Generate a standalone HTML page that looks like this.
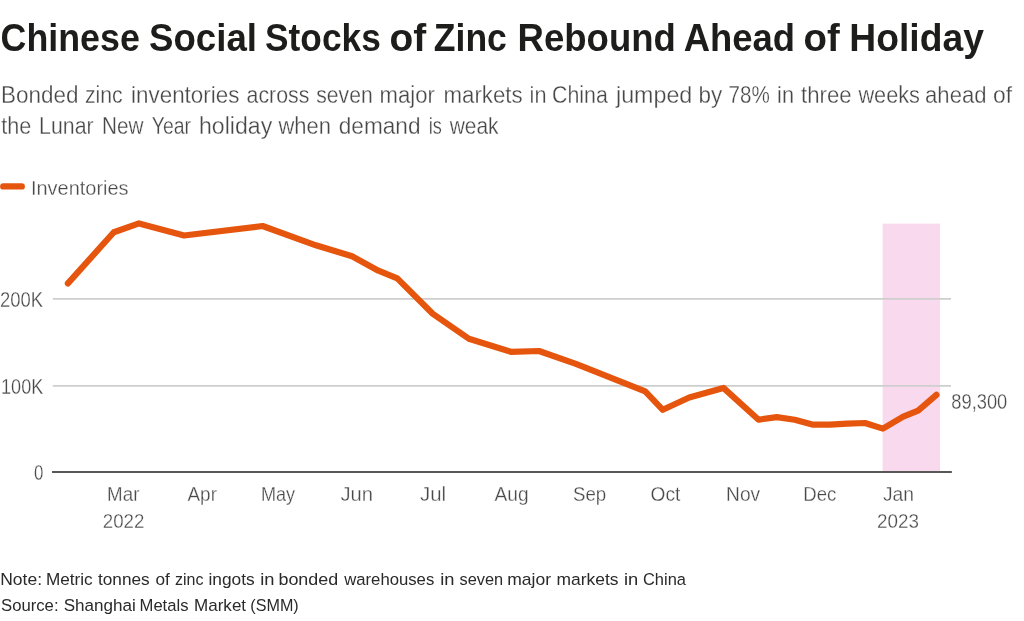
<!DOCTYPE html>
<html><head><meta charset="utf-8"><title>Chinese Social Stocks of Zinc Rebound Ahead of Holiday</title>
<style>
html,body{margin:0;padding:0;background:#fff;}
body{width:1024px;height:621px;overflow:hidden;font-family:"Liberation Sans",sans-serif;}
svg{display:block;font-family:"Liberation Sans",sans-serif;will-change:transform;}
text.l{stroke:#fff;stroke-width:0.3px;}
</style></head><body>
<svg width="1024" height="621" viewBox="0 0 1024 621">
<rect x="0" y="0" width="1024" height="621" fill="#ffffff"/>
<rect x="882.6" y="223.6" width="57.45" height="248" fill="#f9d9ee"/>
<line x1="52.8" y1="298.9" x2="951" y2="298.9" stroke="#cecece" stroke-width="1.8"/>
<line x1="52.8" y1="385.85" x2="951" y2="385.85" stroke="#cecece" stroke-width="1.8"/>
<line x1="52.0" y1="471.95" x2="951.85" y2="471.95" stroke="#585856" stroke-width="1.9"/>
<polyline points="67.9,283.4 113.8,232.2 139.0,223.4 184.1,235.5 262.6,226.0 315.9,245.3 352.1,256.3 378.4,270.7 397.3,278.4 432.7,313.7 468.9,338.7 510.9,351.8 539.0,351.0 575.9,363.9 645.2,391.3 662.8,409.8 689.2,397.5 723.4,387.9 758.6,419.7 776.8,417.1 794.7,419.7 812.3,424.6 829.9,424.6 847.5,423.6 865.0,423.0 882.9,428.6 903.2,416.7 918.1,410.7 936.4,394.8" fill="none" stroke="#e6550d" stroke-width="6.2" stroke-linecap="round" stroke-linejoin="round"/>
<line x1="3.3" y1="186.4" x2="21.7" y2="186.4" stroke="#e6550d" stroke-width="6.4" stroke-linecap="round"/>
<text transform="translate(0.56 51.00) scale(0.9421 1)" font-size="38.0" font-weight="bold" fill="#1d1d1b">Chinese</text>
<text transform="translate(149.04 51.00) scale(0.9642 1)" font-size="38.0" font-weight="bold" fill="#1d1d1b">Social</text>
<text transform="translate(265.07 51.00) scale(0.9287 1)" font-size="38.0" font-weight="bold" fill="#1d1d1b">Stocks</text>
<text transform="translate(389.48 51.00) scale(1.0224 1)" font-size="38.0" font-weight="bold" fill="#1d1d1b">of</text>
<text transform="translate(433.81 51.00) scale(0.9353 1)" font-size="38.0" font-weight="bold" fill="#1d1d1b">Zinc</text>
<text transform="translate(517.58 51.00) scale(0.9615 1)" font-size="38.0" font-weight="bold" fill="#1d1d1b">Rebound</text>
<text transform="translate(683.75 51.00) scale(0.9590 1)" font-size="38.0" font-weight="bold" fill="#1d1d1b">Ahead</text>
<text transform="translate(803.49 51.00) scale(1.0082 1)" font-size="38.0" font-weight="bold" fill="#1d1d1b">of</text>
<text transform="translate(849.29 51.00) scale(0.9806 1)" font-size="38.0" font-weight="bold" fill="#1d1d1b">Holiday</text>
<text class="l" transform="translate(1.04 102.50) scale(0.9563 1)" font-size="23.5" font-weight="normal" fill="#474747">Bonded</text>
<text class="l" transform="translate(85.00 102.50) scale(0.9039 1)" font-size="23.5" font-weight="normal" fill="#474747">zinc</text>
<text class="l" transform="translate(131.05 102.50) scale(0.9540 1)" font-size="23.5" font-weight="normal" fill="#474747">inventories</text>
<text class="l" transform="translate(246.59 102.50) scale(0.9079 1)" font-size="23.5" font-weight="normal" fill="#474747">across</text>
<text class="l" transform="translate(316.25 102.50) scale(0.9004 1)" font-size="23.5" font-weight="normal" fill="#474747">seven</text>
<text class="l" transform="translate(379.56 102.50) scale(0.9407 1)" font-size="23.5" font-weight="normal" fill="#474747">major</text>
<text class="l" transform="translate(443.55 102.50) scale(0.9472 1)" font-size="23.5" font-weight="normal" fill="#474747">markets</text>
<text class="l" transform="translate(529.58 102.50) scale(0.9247 1)" font-size="23.5" font-weight="normal" fill="#474747">in</text>
<text class="l" transform="translate(552.09 102.50) scale(0.9090 1)" font-size="23.5" font-weight="normal" fill="#474747">China</text>
<text class="l" transform="translate(615.99 102.50) scale(0.9902 1)" font-size="23.5" font-weight="normal" fill="#474747">jumped</text>
<text class="l" transform="translate(698.54 102.50) scale(0.9556 1)" font-size="23.5" font-weight="normal" fill="#474747">by</text>
<text class="l" transform="translate(728.62 102.50) scale(0.8778 1)" font-size="23.5" font-weight="normal" fill="#474747">78%</text>
<text class="l" transform="translate(777.08 102.50) scale(0.9247 1)" font-size="23.5" font-weight="normal" fill="#474747">in</text>
<text class="l" transform="translate(801.00 102.50) scale(0.9440 1)" font-size="23.5" font-weight="normal" fill="#474747">three</text>
<text class="l" transform="translate(858.42 102.50) scale(0.9236 1)" font-size="23.5" font-weight="normal" fill="#474747">weeks</text>
<text class="l" transform="translate(925.06 102.50) scale(0.9403 1)" font-size="23.5" font-weight="normal" fill="#474747">ahead</text>
<text class="l" transform="translate(993.00 102.50) scale(0.9716 1)" font-size="23.5" font-weight="normal" fill="#474747">of</text>
<text class="l" transform="translate(1.25 134.00) scale(0.9203 1)" font-size="23.5" font-weight="normal" fill="#474747">the</text>
<text class="l" transform="translate(39.09 134.00) scale(0.9067 1)" font-size="23.5" font-weight="normal" fill="#474747">Lunar</text>
<text class="l" transform="translate(102.12 134.00) scale(0.8822 1)" font-size="23.5" font-weight="normal" fill="#474747">New</text>
<text class="l" transform="translate(151.75 134.00) scale(0.8289 1)" font-size="23.5" font-weight="normal" fill="#474747">Year</text>
<text class="l" transform="translate(199.02 134.00) scale(0.9834 1)" font-size="23.5" font-weight="normal" fill="#474747">holiday</text>
<text class="l" transform="translate(278.44 134.00) scale(0.9357 1)" font-size="23.5" font-weight="normal" fill="#474747">when</text>
<text class="l" transform="translate(338.75 134.00) scale(0.9630 1)" font-size="23.5" font-weight="normal" fill="#474747">demand</text>
<text class="l" transform="translate(428.73 134.00) scale(0.7720 1)" font-size="23.5" font-weight="normal" fill="#474747">is</text>
<text class="l" transform="translate(449.64 134.00) scale(0.8911 1)" font-size="23.5" font-weight="normal" fill="#474747">weak</text>
<text class="l" transform="translate(30.94 194.80) scale(0.9598 1)" font-size="20.8" font-weight="normal" fill="#494949">Inventories</text>
<text class="l" transform="translate(-0.06 306.70) scale(0.8555 1)" font-size="21.6" font-weight="normal" fill="#494949">200K</text>
<text class="l" transform="translate(1.06 393.70) scale(0.8375 1)" font-size="21.6" font-weight="normal" fill="#494949">100K</text>
<text class="l" transform="translate(33.90 479.90) scale(0.7792 1)" font-size="21.6" font-weight="normal" fill="#494949">0</text>
<text class="l" transform="translate(951.30 408.85) scale(0.8480 1)" font-size="21.6" font-weight="normal" fill="#494949">89,300</text>
<text class="l" transform="translate(107.10 501.40) scale(0.9028 1)" font-size="20.8" font-weight="normal" fill="#494949">Mar</text>
<text class="l" transform="translate(187.50 501.40) scale(0.9094 1)" font-size="20.8" font-weight="normal" fill="#494949">Apr</text>
<text class="l" transform="translate(260.88 501.40) scale(0.8678 1)" font-size="20.8" font-weight="normal" fill="#494949">May</text>
<text class="l" transform="translate(340.50 501.40) scale(0.9707 1)" font-size="20.8" font-weight="normal" fill="#494949">Jun</text>
<text class="l" transform="translate(420.00 501.40) scale(0.9821 1)" font-size="20.8" font-weight="normal" fill="#494949">Jul</text>
<text class="l" transform="translate(494.50 501.40) scale(0.9194 1)" font-size="20.8" font-weight="normal" fill="#494949">Aug</text>
<text class="l" transform="translate(573.00 501.40) scale(0.8988 1)" font-size="20.8" font-weight="normal" fill="#494949">Sep</text>
<text class="l" transform="translate(650.50 501.40) scale(0.9210 1)" font-size="20.8" font-weight="normal" fill="#494949">Oct</text>
<text class="l" transform="translate(726.08 501.40) scale(0.9225 1)" font-size="20.8" font-weight="normal" fill="#494949">Nov</text>
<text class="l" transform="translate(803.36 501.40) scale(0.8922 1)" font-size="20.8" font-weight="normal" fill="#494949">Dec</text>
<text class="l" transform="translate(883.00 501.40) scale(0.9252 1)" font-size="20.8" font-weight="normal" fill="#494949">Jan</text>
<text class="l" transform="translate(102.80 528.10) scale(0.8994 1)" font-size="20.8" font-weight="normal" fill="#494949">2022</text>
<text class="l" transform="translate(877.09 528.10) scale(0.9061 1)" font-size="20.8" font-weight="normal" fill="#494949">2023</text>
<text transform="translate(0.24 584.80) scale(1.0067 1)" font-size="17.4" font-weight="normal" fill="#2a2a2a">Note:</text>
<text transform="translate(46.01 584.80) scale(0.9862 1)" font-size="17.4" font-weight="normal" fill="#2a2a2a">Metric</text>
<text transform="translate(98.00 584.80) scale(0.9901 1)" font-size="17.4" font-weight="normal" fill="#2a2a2a">tonnes</text>
<text transform="translate(155.50 584.80) scale(0.9883 1)" font-size="17.4" font-weight="normal" fill="#2a2a2a">of</text>
<text transform="translate(175.00 584.80) scale(0.9206 1)" font-size="17.4" font-weight="normal" fill="#2a2a2a">zinc</text>
<text transform="translate(208.50 584.80) scale(0.9954 1)" font-size="17.4" font-weight="normal" fill="#2a2a2a">ingots</text>
<text transform="translate(260.20 584.80) scale(1.0536 1)" font-size="17.4" font-weight="normal" fill="#2a2a2a">in</text>
<text transform="translate(278.47 584.80) scale(1.0291 1)" font-size="17.4" font-weight="normal" fill="#2a2a2a">bonded</text>
<text transform="translate(344.21 584.80) scale(0.9598 1)" font-size="17.4" font-weight="normal" fill="#2a2a2a">warehouses</text>
<text transform="translate(440.20 584.80) scale(1.0536 1)" font-size="17.4" font-weight="normal" fill="#2a2a2a">in</text>
<text transform="translate(459.50 584.80) scale(0.9402 1)" font-size="17.4" font-weight="normal" fill="#2a2a2a">seven</text>
<text transform="translate(507.24 584.80) scale(1.0072 1)" font-size="17.4" font-weight="normal" fill="#2a2a2a">major</text>
<text transform="translate(556.50 584.80) scale(1.0017 1)" font-size="17.4" font-weight="normal" fill="#2a2a2a">markets</text>
<text transform="translate(623.95 584.80) scale(1.0536 1)" font-size="17.4" font-weight="normal" fill="#2a2a2a">in</text>
<text transform="translate(643.00 584.80) scale(0.9450 1)" font-size="17.4" font-weight="normal" fill="#2a2a2a">China</text>
<text transform="translate(1.00 611.20) scale(0.9594 1)" font-size="17.4" font-weight="normal" fill="#2a2a2a">Source:</text>
<text transform="translate(63.75 611.20) scale(0.9810 1)" font-size="17.4" font-weight="normal" fill="#2a2a2a">Shanghai</text>
<text transform="translate(139.55 611.20) scale(0.9550 1)" font-size="17.4" font-weight="normal" fill="#2a2a2a">Metals</text>
<text transform="translate(194.02 611.20) scale(0.9796 1)" font-size="17.4" font-weight="normal" fill="#2a2a2a">Market</text>
<text transform="translate(250.32 611.20) scale(0.9282 1)" font-size="17.4" font-weight="normal" fill="#2a2a2a">(SMM)</text>
</svg>
</body></html>
